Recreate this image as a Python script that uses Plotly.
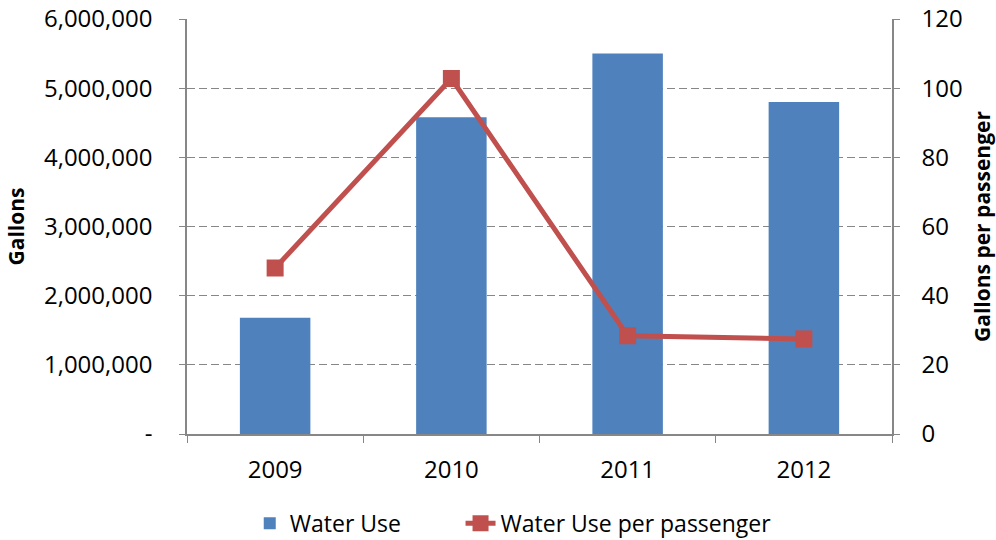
import plotly.graph_objects as go

years = ["2009", "2010", "2011", "2012"]
water_use = [1680000, 4580000, 5500000, 4800000]
per_passenger = [48.0, 102.8, 28.4, 27.5]

left_ticks = [0, 1000000, 2000000, 3000000, 4000000, 5000000, 6000000]
left_labels = ["-", "1,000,000", "2,000,000", "3,000,000", "4,000,000", "5,000,000", "6,000,000"]
right_ticks = [0, 20, 40, 60, 80, 100, 120]

font_family = "Open Sans"
axis_color = "#878787"

fig = go.Figure()
fig.add_trace(go.Bar(
    x=years, y=water_use, name="Water Use",
    marker=dict(color="#4F81BD", line=dict(width=0)),
    yaxis="y", legend="legend",
))
fig.add_trace(go.Scatter(
    x=years, y=per_passenger, name="Water Use per passenger",
    mode="lines+markers",
    line=dict(color="#C0504D", width=5),
    marker=dict(symbol="square", size=17, color="#C0504D"),
    yaxis="y2", legend="legend2",
))

fig.update_layout(
    width=996, height=540,
    margin=dict(l=187, r=104, t=19, b=106, autoexpand=False),
    paper_bgcolor="white", plot_bgcolor="white",
    font=dict(family=font_family, size=24, color="#000000"),
    bargap=0.6,
    showlegend=True,
    legend=dict(orientation="h", x=0.089, xanchor="left", y=-0.215, yanchor="middle",
                font=dict(size=23), bgcolor="rgba(0,0,0,0)"),
    legend2=dict(orientation="h", x=0.388, xanchor="left", y=-0.215, yanchor="middle",
                 font=dict(size=23), bgcolor="rgba(0,0,0,0)"),
    xaxis=dict(
        type="category", showline=True, linecolor=axis_color, linewidth=1.5,
        ticks="outside", tickson="boundaries", ticklen=7, tickcolor=axis_color,
        showgrid=False, ticklabelstandoff=13,
    ),
    yaxis=dict(
        range=[0, 6000000], tickvals=left_ticks, ticktext=left_labels,
        showline=True, linecolor=axis_color, linewidth=1.5,
        ticks="outside", ticklen=6, tickcolor=axis_color,
        showgrid=True, gridcolor=axis_color, griddash="8px,4px", gridwidth=1.3,
        zeroline=False, ticklabelstandoff=22,
        title=dict(text="<b>Gallons</b>", font=dict(size=21), standoff=14),
    ),
    yaxis2=dict(
        range=[0, 120], tickvals=right_ticks, overlaying="y", side="right",
        showline=True, linecolor=axis_color, linewidth=1.5,
        ticks="outside", ticklen=6, tickcolor=axis_color,
        showgrid=False, zeroline=False, ticklabelstandoff=17,
        title=dict(text="<b>Gallons per passenger</b>", font=dict(size=21), standoff=14),
    ),
)

fig.write_html("out.html", config={"displayModeBar": False},
               post_script="document.body.style.margin='0';")
